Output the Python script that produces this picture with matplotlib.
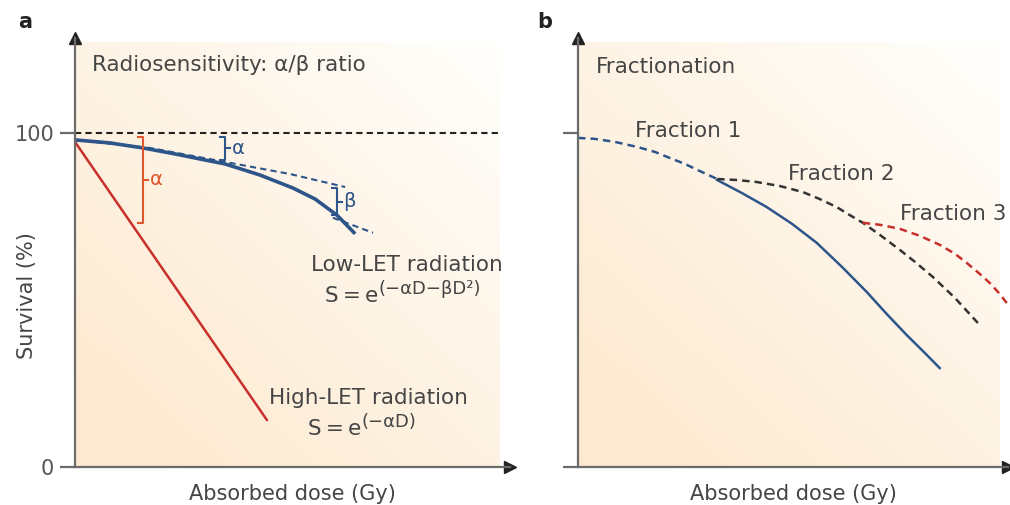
import numpy as np
import matplotlib.pyplot as plt

plt.rcParams['font.family'] = ['DejaVu Sans']

# ---- panel a: radiosensitivity (dose in arbitrary units, survival in %)
lq_dose = [0.00, 0.80, 1.56, 2.30, 2.87, 3.45, 4.25, 5.01, 5.52, 6.02, 6.44]
lq_surv = [97.9, 97.0, 95.5, 93.7, 92.2, 90.7, 87.4, 83.5, 80.2, 75.4, 69.8]
alpha_dose = [0.00, 1.72, 3.33, 4.94, 6.21]
alpha_surv = [97.9, 95.5, 91.6, 87.7, 83.8]
beta_dose = [5.93, 6.85]
beta_surv = [74.6, 70.1]
high_dose = [0.00, 4.41]
high_surv = [97.3, 14.1]
# brackets: (x, y_top, y_bottom, label)
brackets = [(1.56, 98.8, 73.1, "α"), (3.45, 98.8, 91.9, "α"), (6.02, 83.5, 75.4, "β")]

# ---- panel b: fractionation
f1_dose = [0.00, 0.39, 0.85, 1.36, 1.77, 2.11, 2.46, 2.80, 3.20]
f1_surv = [98.5, 98.2, 97.3, 95.8, 94.3, 92.5, 90.7, 88.6, 86.2]
cont_dose = [3.20, 3.77, 4.34, 4.92, 5.49, 6.07, 6.64, 7.10, 7.56, 7.98, 8.32]
cont_surv = [85.9, 82.0, 77.8, 72.8, 67.1, 59.9, 52.4, 45.8, 39.5, 34.1, 29.6]
f2_dose = [3.20, 3.66, 4.11, 4.64, 5.17, 5.56, 5.95, 6.25, 6.55, 6.94, 7.40,
           7.75, 8.16, 8.67, 9.24]
f2_surv = [86.2, 85.9, 85.3, 84.1, 82.3, 80.2, 77.8, 75.4, 73.1, 69.5, 65.0,
           61.4, 56.9, 50.6, 42.5]
f3_dose = [6.55, 6.94, 7.40, 7.86, 8.32, 8.67, 8.94, 9.24, 9.47, 9.70, 9.93]
f3_surv = [73.1, 72.5, 71.3, 69.2, 66.5, 63.8, 61.1, 57.8, 55.1, 51.8, 47.9]

BLUE = "#2d5589"
RED = "#c9302c"
ORANGE = "#e0562e"
GREY = "#6b6b6b"
TXT = "#454545"
W, H = 1010, 505
YMAX = 128.4
FS = 15.5


def px_axes(left, right, top=38, bottom=467):
    return [left / W, (H - bottom) / H, (right - left) / W, (bottom - top) / H]


def gradient(ax, xmax):
    n = 200
    xf, yf = np.meshgrid(np.linspace(0, 1, n), np.linspace(0, 1, n))
    t = np.clip(0.55 * xf + 0.6 * yf - 0.1, 0, 1)[..., None]
    c0 = np.array([253, 233, 208]) / 255
    c1 = np.array([255, 254, 250]) / 255
    img = c0 * (1 - t) + c1 * t
    ax.imshow(img, extent=[0, xmax, 0, 127.2], origin="lower",
              aspect="auto", zorder=0)


def style_axes(ax, xmax, ylabels):
    ax.set_xlim(0, xmax)
    ax.set_ylim(0, YMAX)
    ax.set_facecolor("none")
    for s in ["top", "right"]:
        ax.spines[s].set_visible(False)
    for s in ["left", "bottom"]:
        ax.spines[s].set_color(GREY)
        ax.spines[s].set_linewidth(1.6)
    ax.set_xticks([])
    ax.set_yticks([0, 100])
    ax.set_yticklabels(ylabels)
    ax.tick_params(axis="y", length=11, width=1.6, color=GREY,
                   labelsize=15, labelcolor="#555555", pad=4)
    ax.plot(1, 0, marker=">", ms=9, color="#222222", transform=ax.transAxes,
            clip_on=False)
    ax.plot(0, 1, marker="^", ms=9, color="#222222", transform=ax.transAxes,
            clip_on=False)
    ax.set_xlabel("Absorbed dose (Gy)", fontsize=15, color=TXT, labelpad=12)


def formula(ax, x, y, sup):
    ax.text(x, y, "S\u2009=\u2009e", fontsize=FS, color=TXT, ha="right", va="center")
    ax.text(x + 0.02, y + 2.0, sup, fontsize=13, color=TXT, ha="left", va="center")


fig = plt.figure(figsize=(10.1, 5.05), dpi=100)

# panel a
ax1 = fig.add_axes(px_axes(75, 510))
gradient(ax1, 9.77)
style_axes(ax1, 10.0, ["0", "100"])
dash = dict(ls=(0, (3, 2)))
ax1.plot([0, 9.77], [100, 100], color="#222222", lw=1.5, **dash)
ax1.plot(high_dose, high_surv, color=RED, lw=1.8)
ax1.plot(alpha_dose, alpha_surv, color=BLUE, lw=1.5, **dash)
ax1.plot(beta_dose, beta_surv, color=BLUE, lw=1.5, **dash)
ax1.plot(lq_dose, lq_surv, color=BLUE, lw=2.6, solid_capstyle="butt",
         solid_joinstyle="round")
for i, (bx, ytop, ybot, lab) in enumerate(brackets):
    col = ORANGE if i == 0 else BLUE
    tk = 0.12
    ax1.plot([bx - tk, bx, bx, bx - tk], [ytop, ytop, ybot, ybot], color=col, lw=1.5)
    ym = (ytop + ybot) / 2
    ax1.plot([bx, bx + tk], [ym, ym], color=col, lw=1.5)
    ax1.text(bx + 0.15, ym, lab, color=col, fontsize=14, va="center", ha="left")

ax1.text(0.39, 120.4, "Radiosensitivity: α/β ratio", fontsize=FS, color=TXT,
         va="center", ha="left")
ax1.text(7.63, 60.5, "Low-LET radiation", fontsize=FS, color=TXT,
         ha="center", va="center")
formula(ax1, 6.96, 51.2, "(−αD−βD²)")
ax1.text(6.74, 20.7, "High-LET radiation", fontsize=FS, color=TXT,
         ha="center", va="center")
formula(ax1, 6.57, 11.4, "(−αD)")
ax1.text(-0.110, 0.40, "Survival (%)", fontsize=15, color=TXT, rotation=90,
         ha="center", va="center", transform=ax1.transAxes)

# panel b
ax2 = fig.add_axes(px_axes(578, 1008))
gradient(ax2, 9.7)
style_axes(ax2, 9.89, ["", ""])
ax2.plot(f1_dose, f1_surv, color=BLUE, lw=1.8, **dash)
ax2.plot(cont_dose, cont_surv, color=BLUE, lw=1.8, solid_joinstyle="round")
ax2.plot(f2_dose, f2_surv, color="#333333", lw=1.8, **dash)
ax2.plot(f3_dose, f3_surv, color=RED, lw=1.8, clip_on=False, **dash)
ax2.text(0.41, 119.8, "Fractionation", fontsize=FS, color=TXT,
         ha="left", va="center")
ax2.text(1.31, 100.6, "Fraction 1", fontsize=FS, color=TXT, ha="left", va="center")
ax2.text(4.83, 87.7, "Fraction 2", fontsize=FS, color=TXT, ha="left", va="center")
ax2.text(7.40, 75.7, "Fraction 3", fontsize=FS, color=TXT, ha="left", va="center")

fig.text(18 / W, 1 - 22 / H, "a", fontsize=15, fontweight="bold", color="#222222",
         ha="left", va="center")
fig.text(537 / W, 1 - 22 / H, "b", fontsize=15, fontweight="bold", color="#222222",
         ha="left", va="center")

fig.savefig("out.png", dpi=100, facecolor="white")
